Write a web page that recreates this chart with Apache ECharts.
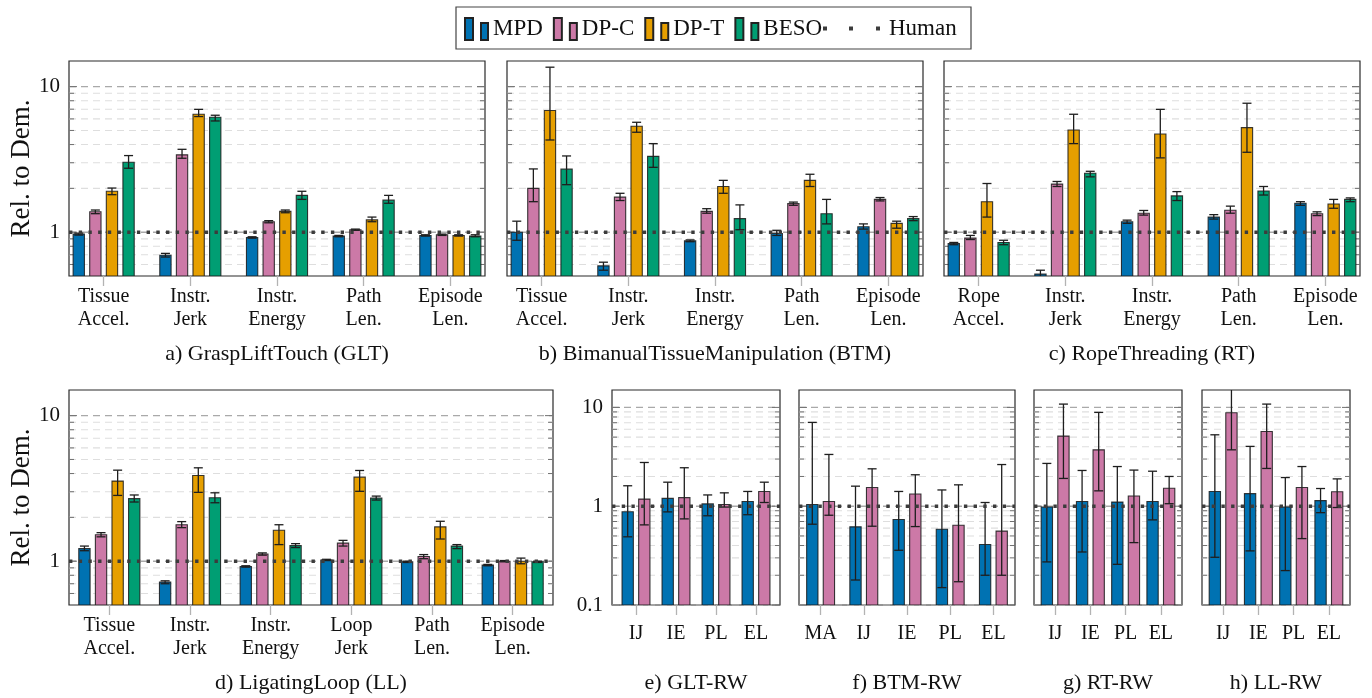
<!DOCTYPE html>
<html><head><meta charset="utf-8">
<script src="https://cdn.jsdelivr.net/npm/echarts@6/dist/echarts.min.js"></script>
<style>html,body{margin:0;padding:0;background:#fff}#c{width:1372px;height:698px}</style>
</head><body><div id="c"></div>
<script>
// ---------------- categories ----------------
const methods = ['MPD', 'DP-C', 'DP-T', 'BESO'];
const catsGLT = ['Tissue\nAccel.', 'Instr.\nJerk', 'Instr.\nEnergy', 'Path\nLen.', 'Episode\nLen.'];
const catsBTM = ['Tissue\nAccel.', 'Instr.\nJerk', 'Instr.\nEnergy', 'Path\nLen.', 'Episode\nLen.'];
const catsRT  = ['Rope\nAccel.', 'Instr.\nJerk', 'Instr.\nEnergy', 'Path\nLen.', 'Episode\nLen.'];
const catsLL  = ['Tissue\nAccel.', 'Instr.\nJerk', 'Instr.\nEnergy', 'Loop\nJerk', 'Path\nLen.', 'Episode\nLen.'];
const catsGLTRW = ['IJ', 'IE', 'PL', 'EL'];
const catsBTMRW = ['MA', 'IJ', 'IE', 'PL', 'EL'];
const catsRTRW  = ['IJ', 'IE', 'PL', 'EL'];
const catsLLRW  = ['IJ', 'IE', 'PL', 'EL'];

// ---------------- a) GLT ----------------
const gltMPD = [0.97, 0.695, 0.92, 0.94, 0.95];
const gltMPDLo = [0.955, 0.675, 0.91, 0.93, 0.94];
const gltMPDHi = [0.985, 0.715, 0.93, 0.95, 0.96];
const gltDPC = [1.38, 3.40, 1.18, 1.04, 0.96];
const gltDPCLo = [1.34, 3.22, 1.16, 1.03, 0.95];
const gltDPCHi = [1.42, 3.71, 1.20, 1.05, 0.97];
const gltDPT = [1.91, 6.46, 1.39, 1.215, 0.95];
const gltDPTLo = [1.81, 6.23, 1.36, 1.18, 0.94];
const gltDPTHi = [2.01, 6.98, 1.42, 1.27, 0.96];
const gltBESO = [3.02, 6.16, 1.79, 1.66, 0.94];
const gltBESOLo = [2.75, 5.81, 1.68, 1.58, 0.93];
const gltBESOHi = [3.36, 6.36, 1.91, 1.79, 0.96];

// ---------------- b) BTM ----------------
const btmMPD = [1.0, 0.587, 0.872, 0.98, 1.09];
const btmMPDLo = [0.88, 0.548, 0.86, 0.95, 1.05];
const btmMPDHi = [1.19, 0.622, 0.885, 1.03, 1.14];
const btmDPC = [2.0, 1.74, 1.39, 1.57, 1.68];
const btmDPCLo = [1.62, 1.65, 1.35, 1.53, 1.64];
const btmDPCHi = [2.72, 1.85, 1.45, 1.61, 1.73];
const btmDPT = [6.85, 5.34, 2.06, 2.27, 1.15];
const btmDPTLo = [4.3, 4.86, 1.85, 2.06, 1.065];
const btmDPTHi = [13.6, 5.69, 2.27, 2.50, 1.19];
const btmBESO = [2.71, 3.32, 1.24, 1.34, 1.24];
const btmBESOLo = [2.12, 2.79, 1.04, 1.14, 1.20];
const btmBESOHi = [3.34, 4.06, 1.54, 1.68, 1.28];

// ---------------- c) RT ----------------
const rtMPD = [0.836, 0.515, 1.18, 1.27, 1.58];
const rtMPDLo = [0.82, 0.48, 1.15, 1.23, 1.53];
const rtMPDHi = [0.85, 0.548, 1.21, 1.32, 1.62];
const rtDPC = [0.91, 2.14, 1.35, 1.415, 1.34];
const rtDPCLo = [0.89, 2.06, 1.31, 1.35, 1.30];
const rtDPCHi = [0.95, 2.23, 1.41, 1.51, 1.38];
const rtDPT = [1.62, 5.04, 4.73, 5.23, 1.56];
const rtDPTLo = [1.27, 4.06, 3.24, 3.54, 1.46];
const rtDPTHi = [2.16, 6.46, 6.98, 7.69, 1.68];
const rtBESO = [0.85, 2.54, 1.775, 1.92, 1.68];
const rtBESOLo = [0.82, 2.40, 1.65, 1.80, 1.62];
const rtBESOHi = [0.88, 2.62, 1.90, 2.06, 1.72];

// ---------------- d) LL ----------------
const llMPD = [1.22, 0.718, 0.92, 1.02, 0.99, 0.94];
const llMPDLo = [1.18, 0.70, 0.91, 1.01, 0.98, 0.93];
const llMPDHi = [1.27, 0.733, 0.93, 1.03, 1.0, 0.95];
const llDPC = [1.52, 1.78, 1.12, 1.33, 1.076, 1.0];
const llDPCLo = [1.47, 1.70, 1.10, 1.27, 1.04, 0.99];
const llDPCHi = [1.57, 1.87, 1.14, 1.39, 1.11, 1.01];
const llDPT = [3.55, 3.88, 1.63, 3.78, 1.72, 1.0];
const llDPTLo = [2.83, 2.97, 1.30, 3.02, 1.42, 0.96];
const llDPTHi = [4.22, 4.38, 1.78, 4.20, 1.88, 1.05];
const llBESO = [2.69, 2.73, 1.28, 2.71, 1.27, 0.99];
const llBESOLo = [2.55, 2.52, 1.24, 2.63, 1.22, 0.98];
const llBESOHi = [2.85, 2.95, 1.32, 2.80, 1.30, 1.0];

// ---------------- e) GLT-RW ----------------
const gltrwMPD = [0.88, 1.2, 1.055, 1.115];
const gltrwMPDLo = [0.49, 0.876, 0.80, 0.82];
const gltrwMPDHi = [1.61, 1.75, 1.30, 1.41];
const gltrwDPC = [1.18, 1.22, 1.04, 1.41];
const gltrwDPCLo = [0.647, 0.744, 0.98, 1.09];
const gltrwDPCHi = [2.77, 2.45, 1.365, 1.75];

// ---------------- f) BTM-RW ----------------
const btmrwMPD = [1.04, 0.618, 0.733, 0.585, 0.41];
const btmrwMPDLo = [0.657, 0.179, 0.358, 0.150, 0.20];
const btmrwMPDHi = [7.05, 1.595, 1.41, 1.46, 1.09];
const btmrwDPC = [1.115, 1.545, 1.33, 0.642, 0.56];
const btmrwDPCLo = [0.81, 0.627, 0.622, 0.172, 0.20];
const btmrwDPCHi = [3.34, 2.39, 2.08, 1.645, 2.64];

// ---------------- g) RT-RW ----------------
const rtrwMPD = [0.98, 1.115, 1.10, 1.115];
const rtrwMPDLo = [0.273, 0.344, 0.258, 0.727];
const rtrwMPDHi = [2.71, 2.30, 2.52, 2.26];
const rtrwDPC = [5.12, 3.72, 1.27, 1.52];
const rtrwDPCLo = [1.91, 1.43, 0.428, 1.06];
const rtrwDPCHi = [10.8, 8.9, 2.32, 2.0];

// ---------------- h) LL-RW ----------------
const llrwMPD = [1.41, 1.34, 0.98, 1.14];
const llrwMPDLo = [0.304, 0.353, 0.223, 0.86];
const llrwMPDHi = [5.28, 4.03, 1.95, 1.51];
const llrwDPC = [8.83, 5.71, 1.545, 1.40];
const llrwDPCLo = [3.72, 2.41, 0.47, 0.97];
const llrwDPCHi = [16.0, 10.8, 2.52, 1.89];

// human reference level and grid tick values
const humanLevel = 1;
const majorTicksTop = [1, 10];
const minorTicksTop = [0.6, 0.7, 0.8, 0.9, 2, 3, 4, 5, 6, 7, 8, 9];
const majorTicksRW = [0.1, 1, 10];
const minorTicksRW = [0.2, 0.3, 0.4, 0.5, 0.6, 0.7, 0.8, 0.9, 2, 3, 4, 5, 6, 7, 8, 9];

// ---------------- styling / layout ----------------
const FONT = '"Liberation Serif", "Times New Roman", serif';
const colors = ['#0072B2', '#CC79A7', '#E69F00', '#009E73'];
const BAR_W = 11.3, BAR_STEP = 16.6, CAP = 4.5;

const panels = [
  { grid: [69, 61, 416, 215], xr: [-0.4, 4.4], yr: [0.5, 15], cats: catsGLT, showY: true, yName: 'Rel. to Dem.', title: 'a) GraspLiftTouch (GLT)', ty: 354, margin: 9, rw: false,
    data: [[gltMPD, gltMPDLo, gltMPDHi], [gltDPC, gltDPCLo, gltDPCHi], [gltDPT, gltDPTLo, gltDPTHi], [gltBESO, gltBESOLo, gltBESOHi]] },
  { grid: [507, 61, 416, 215], xr: [-0.4, 4.4], yr: [0.5, 15], cats: catsBTM, showY: false, yName: '', title: 'b) BimanualTissueManipulation (BTM)', ty: 354, margin: 9, rw: false,
    data: [[btmMPD, btmMPDLo, btmMPDHi], [btmDPC, btmDPCLo, btmDPCHi], [btmDPT, btmDPTLo, btmDPTHi], [btmBESO, btmBESOLo, btmBESOHi]] },
  { grid: [944, 61, 416, 215], xr: [-0.4, 4.4], yr: [0.5, 15], cats: catsRT, showY: false, yName: '', title: 'c) RopeThreading (RT)', ty: 354, margin: 9, rw: false,
    data: [[rtMPD, rtMPDLo, rtMPDHi], [rtDPC, rtDPCLo, rtDPCHi], [rtDPT, rtDPTLo, rtDPTHi], [rtBESO, rtBESOLo, rtBESOHi]] },
  { grid: [69, 390, 484, 215], xr: [-0.5, 5.5], yr: [0.5, 15], cats: catsLL, showY: true, yName: 'Rel. to Dem.', title: 'd) LigatingLoop (LL)', ty: 683, margin: 9, rw: false,
    data: [[llMPD, llMPDLo, llMPDHi], [llDPC, llDPCLo, llDPCHi], [llDPT, llDPTLo, llDPTHi], [llBESO, llBESOLo, llBESOHi]] },
  { grid: [612, 390, 168, 215], xr: [-0.6, 3.6], yr: [0.1, 15], cats: catsGLTRW, showY: true, yName: '', title: 'e) GLT-RW', ty: 683, margin: 17, rw: true,
    data: [[gltrwMPD, gltrwMPDLo, gltrwMPDHi], [gltrwDPC, gltrwDPCLo, gltrwDPCHi]] },
  { grid: [799, 390, 216, 215], xr: [-0.5, 4.5], yr: [0.1, 15], cats: catsBTMRW, showY: false, yName: '', title: 'f) BTM-RW', ty: 683, margin: 17, rw: true,
    data: [[btmrwMPD, btmrwMPDLo, btmrwMPDHi], [btmrwDPC, btmrwDPCLo, btmrwDPCHi]] },
  { grid: [1034, 390, 148, 215], xr: [-0.6, 3.6], yr: [0.1, 15], cats: catsRTRW, showY: false, yName: '', title: 'g) RT-RW', ty: 683, margin: 17, rw: true,
    data: [[rtrwMPD, rtrwMPDLo, rtrwMPDHi], [rtrwDPC, rtrwDPCLo, rtrwDPCHi]] },
  { grid: [1202, 390, 148, 215], xr: [-0.6, 3.6], yr: [0.1, 15], cats: catsLLRW, showY: false, yName: '', title: 'h) LL-RW', ty: 683, margin: 17, rw: true,
    data: [[llrwMPD, llrwMPDLo, llrwMPDHi], [llrwDPC, llrwDPCLo, llrwDPCHi]] }
];

function isDecade(v) {
  const l = Math.log10(v);
  return Math.abs(l - Math.round(l)) < 1e-6;
}

function makeBarRender(k, n, yMin) {
  return function (params, api) {
    const x = api.value(0), v = api.value(1), lo = api.value(2), hi = api.value(3);
    const pTop = api.coord([x, v]);
    const pBot = api.coord([x, yMin]);
    const cx = pTop[0] + (k - (n - 1) / 2) * BAR_STEP;
    const yLo = api.coord([x, lo])[1], yHi = api.coord([x, hi])[1];
    const es = { stroke: '#1e1e1e', lineWidth: 1.3 };
    return {
      type: 'group', children: [
        { type: 'rect', shape: { x: cx - BAR_W / 2, y: pTop[1], width: BAR_W, height: pBot[1] - pTop[1] },
          style: { fill: api.visual('color'), stroke: 'rgba(25,25,25,0.85)', lineWidth: 1.1 } },
        { type: 'line', shape: { x1: cx, y1: yLo, x2: cx, y2: yHi }, style: es },
        { type: 'line', shape: { x1: cx - CAP, y1: yHi, x2: cx + CAP, y2: yHi }, style: es },
        { type: 'line', shape: { x1: cx - CAP, y1: yLo, x2: cx + CAP, y2: yLo }, style: es }
      ]
    };
  };
}

function makeDecorRender(xmin) {
  return function (params, api) {
    const v = api.value(1), major = api.value(2);
    const cs = params.coordSys;
    const y = api.coord([xmin, v])[1];
    const L = major ? 8 : 5;
    return {
      type: 'group', children: [
        { type: 'line', shape: { x1: cs.x, y1: y, x2: cs.x + cs.width, y2: y },
          style: { stroke: major ? '#a9a9a9' : '#dedede', lineWidth: major ? 1.4 : 1.1, lineDash: [7, 5] } },
        { type: 'line', shape: { x1: cs.x, y1: y, x2: cs.x + L, y2: y }, style: { stroke: '#707070', lineWidth: 1 } },
        { type: 'line', shape: { x1: cs.x + cs.width - L, y1: y, x2: cs.x + cs.width, y2: y }, style: { stroke: '#707070', lineWidth: 1 } }
      ]
    };
  };
}

function humanRender(params, api) {
  const cs = params.coordSys;
  const y = api.coord([api.value(0), api.value(1)])[1];
  return { type: 'line', shape: { x1: cs.x, y1: y, x2: cs.x + cs.width, y2: y },
    style: { stroke: '#3c3c3c', lineWidth: 3.4, lineDash: [3.4, 6.3], lineCap: 'butt' } };
}

const grids = [], xAxes = [], yAxes = [], series = [], graphics = [];
panels.forEach((p, gi) => {
  grids.push({ left: p.grid[0], top: p.grid[1], width: p.grid[2], height: p.grid[3], show: true,
    borderColor: '#2a2a2a', borderWidth: 1.2, backgroundColor: 'transparent' });
  const idx = p.cats.map((c, i) => i);
  xAxes.push({ gridIndex: gi, type: 'value', min: p.xr[0], max: p.xr[1],
    axisLine: { show: false }, splitLine: { show: false },
    axisTick: { show: true, customValues: idx, length: 10, lineStyle: { color: '#b3b3b3', width: 1.3 } },
    axisLabel: { customValues: idx, formatter: v => p.cats[Math.round(v)], fontFamily: FONT, fontSize: 20,
      lineHeight: 23, color: '#111', margin: p.margin } });
  yAxes.push({ gridIndex: gi, type: 'log', logBase: 10, min: p.yr[0], max: p.yr[1],
    axisLine: { show: false }, axisTick: { show: false }, splitLine: { show: false },
    minorTick: { show: false }, minorSplitLine: { show: false },
    axisLabel: { show: p.showY, formatter: v => (isDecade(v) ? String(+v.toPrecision(3)) : ''),
      fontFamily: FONT, fontSize: 21, color: '#111', margin: 9, showMinLabel: true, showMaxLabel: true },
    name: p.yName, nameLocation: 'middle', nameGap: 34,
    nameTextStyle: { fontFamily: FONT, fontSize: 27, color: '#111' } });

  const majors = p.rw ? majorTicksRW : majorTicksTop;
  const minors = p.rw ? minorTicksRW : minorTicksTop;
  series.push({ type: 'custom', xAxisIndex: gi, yAxisIndex: gi, z: 1, silent: true,
    renderItem: makeDecorRender(p.xr[0]),
    data: minors.map(v => [p.xr[0], v, 0]).concat(majors.map(v => [p.xr[0], v, 1])) });

  p.data.forEach((d, k) => {
    series.push({ type: 'custom', name: methods[k], xAxisIndex: gi, yAxisIndex: gi, z: 2, clip: true, silent: true,
      itemStyle: { color: colors[k], borderColor: '#222', borderWidth: 1 },
      renderItem: makeBarRender(k, p.data.length, p.yr[0]),
      encode: { x: 0, y: 1 },
      data: d[0].map((v, i) => [i, v, d[1][i], d[2][i]]) });
  });

  series.push({ type: 'custom', name: 'Human', xAxisIndex: gi, yAxisIndex: gi, z: 3, silent: true,
    itemStyle: { color: '#3c3c3c' }, renderItem: humanRender, data: [[p.xr[0], humanLevel]] });

  graphics.push({ type: 'text', x: p.grid[0] + p.grid[2] / 2, y: p.ty,
    style: { text: p.title, font: '22px ' + FONT, fill: '#111', textAlign: 'center', textVerticalAlign: 'middle' } });
});

graphics.push({ type: 'rect', shape: { x: 456, y: 7, width: 515, height: 42 },
  style: { fill: 'none', stroke: '#444', lineWidth: 1.2 } });

const barIcon = 'path://M0,0h8v22h-8z M16,5h7v17h-7z';
const dotsIcon = 'path://M0,0h4v4h-4z M26,0h4v4h-4z M53,0h4v4h-4z';

const chart = echarts.init(document.getElementById('c'), null, { renderer: 'canvas' });
chart.setOption({
  animation: false,
  backgroundColor: '#fff',
  grid: grids,
  xAxis: xAxes,
  yAxis: yAxes,
  legend: [
    { left: 464, top: 17, itemWidth: 23, itemHeight: 22, itemGap: 10, padding: 0, selectedMode: false,
      textStyle: { fontFamily: FONT, fontSize: 23, color: '#111' },
      data: methods.map(m => ({ name: m, icon: barIcon })) },
    { left: 823, top: 17, itemWidth: 57, itemHeight: 4, padding: 0, selectedMode: false,
      textStyle: { fontFamily: FONT, fontSize: 23, color: '#111', padding: [0, 0, 0, 4] },
      data: [{ name: 'Human', icon: dotsIcon }] }
  ],
  graphic: graphics,
  series: series
});
</script>
</body></html>
